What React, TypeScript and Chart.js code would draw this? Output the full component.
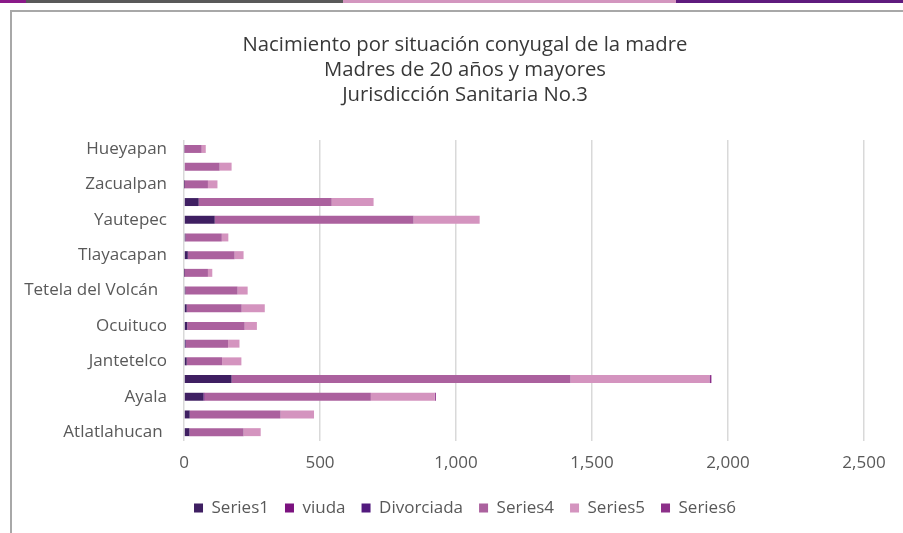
import React, { useEffect, useRef } from "react";
import { Chart, registerables } from "chart.js";

Chart.register(...registerables);

// Categories in the sheet's order (first = bottom of the chart)
const categories = [
  "Atlatlahucan ",
  "Axochiapan",
  "Ayala",
  "Cuautla",
  "Jantetelco",
  "Jonacatepec",
  "Ocuituco",
  "Temoac",
  "Tetela del Volcán  ",
  "Tlalnepantla",
  "Tlayacapan",
  "Totolapan",
  "Yautepec",
  "Yecapixtla",
  "Zacualpan",
  "Tepalcingo",
  "Hueyapan",
];

const series1 = [20, 21, 72, 175, 10, 5, 12, 10, 5, 1, 14, 5, 113, 54, 1, 3, 2];
const viuda = [0, 0, 4, 0, 0, 0, 0, 0, 0, 0, 0, 0, 0, 0, 0, 0, 0];
const divorciada = [0, 0, 0, 0, 0, 2, 0, 0, 0, 0, 0, 0, 0, 0, 0, 0, 0];
const series4 = [199, 334, 611, 1246, 130, 155, 211, 202, 192, 87, 172, 134, 731, 489, 87, 128, 63];
const series5 = [63, 123, 235, 511, 71, 42, 45, 85, 37, 16, 33, 24, 243, 154, 35, 44, 15];
const series6 = [0, 0, 4, 7, 0, 0, 0, 0, 0, 0, 0, 0, 0, 0, 0, 0, 0];

const seriesNames = ["Series1", "viuda", "Divorciada", "Series4", "Series5", "Series6"];
const seriesColors = ["#3f1f62", "#7b127f", "#521a7e", "#ab619e", "#d494bf", "#8c3089"];

const titleLines = [
  "Nacimiento por situación conyugal de la madre",
  "Madres de 20 años y mayores",
  "Jurisdicción Sanitaria No.3",
];

const xMin = 0;
const xMax = 2500;
const xStep = 500;

const FONT = "'Open Sans', 'Liberation Sans', sans-serif";

export default function App() {
  const canvasRef = useRef<HTMLCanvasElement | null>(null);

  useEffect(() => {
    const canvas = canvasRef.current;
    if (!canvas) return;
    const values = [series1, viuda, divorciada, series4, series5, series6];
    const chart = new Chart(canvas, {
      type: "bar",
      data: {
        labels: categories,
        datasets: values.map((v, i) => ({
          label: seriesNames[i],
          data: v,
          backgroundColor: seriesColors[i],
          borderWidth: 0,
          barPercentage: 0.45,
          categoryPercentage: 1,
        })),
      },
      options: {
        indexAxis: "y",
        responsive: false,
        animation: false,
        maintainAspectRatio: false,
        layout: { padding: { left: 66, right: 39, top: 0, bottom: 6.5 } },
        scales: {
          x: {
            stacked: true,
            min: xMin,
            max: xMax,
            border: { display: false },
            grid: { color: "#d9d9d9", lineWidth: 1.5, drawTicks: false },
            ticks: {
              stepSize: xStep,
              padding: 12,
              color: "#595959",
              font: { family: FONT, size: 17 },
              callback: (v: any) => Number(v).toLocaleString("en-US"),
            },
            afterFit: (scale: any) => {
              scale.height = 42.5;
            },
          },
          y: {
            stacked: true,
            reverse: true,
            border: { display: false },
            grid: { display: false, drawTicks: false },
            ticks: {
              autoSkip: false,
              padding: 17,
              color: "#595959",
              font: { family: FONT, size: 17 },
              callback: (_v: any, idx: number) => (idx % 2 === 0 ? categories[idx] : ""),
            },
            afterFit: (scale: any) => {
              scale.width = 118;
              // let long category labels extend to the left of the axis box
              scale._computeLabelArea = () => undefined;
            },
          },
        },
        plugins: {
          title: {
            display: true,
            text: titleLines,
            color: "#383838",
            font: { family: FONT, size: 20.3, weight: "normal", lineHeight: 1.225 },
            padding: { top: 32.75, bottom: 32.75 },
          },
          legend: {
            display: true,
            position: "bottom",
            labels: {
              boxWidth: 9,
              boxHeight: 9,
              padding: 16,
              color: "#595959",
              font: { family: FONT, size: 17 },
            },
          },
          tooltip: { enabled: false },
        },
      },
    });
    return () => chart.destroy();
  }, []);

  return (
    <div
      style={{
        position: "fixed",
        left: 0,
        top: 0,
        width: 903,
        height: 533,
        background: "#ffffff",
        overflow: "hidden",
      }}
    >
      <div style={{ position: "absolute", left: 0, top: 0, width: 26, height: 3, background: "#8a1a89" }} />
      <div style={{ position: "absolute", left: 26, top: 0, width: 317, height: 3, background: "#595959" }} />
      <div style={{ position: "absolute", left: 343, top: 0, width: 333, height: 3, background: "#d396bf" }} />
      <div style={{ position: "absolute", left: 676, top: 0, width: 227, height: 3, background: "#5f1b7e" }} />
      <div
        style={{
          position: "absolute",
          left: 10,
          top: 10,
          width: 1000,
          height: 1000,
          borderLeft: "2px solid #a8a8a8",
          borderTop: "2px solid #a8a8a8",
        }}
      />
      <canvas
        ref={canvasRef}
        width={903}
        height={533}
        style={{ position: "absolute", left: 0, top: 0, width: 903, height: 533 }}
      />
    </div>
  );
}
